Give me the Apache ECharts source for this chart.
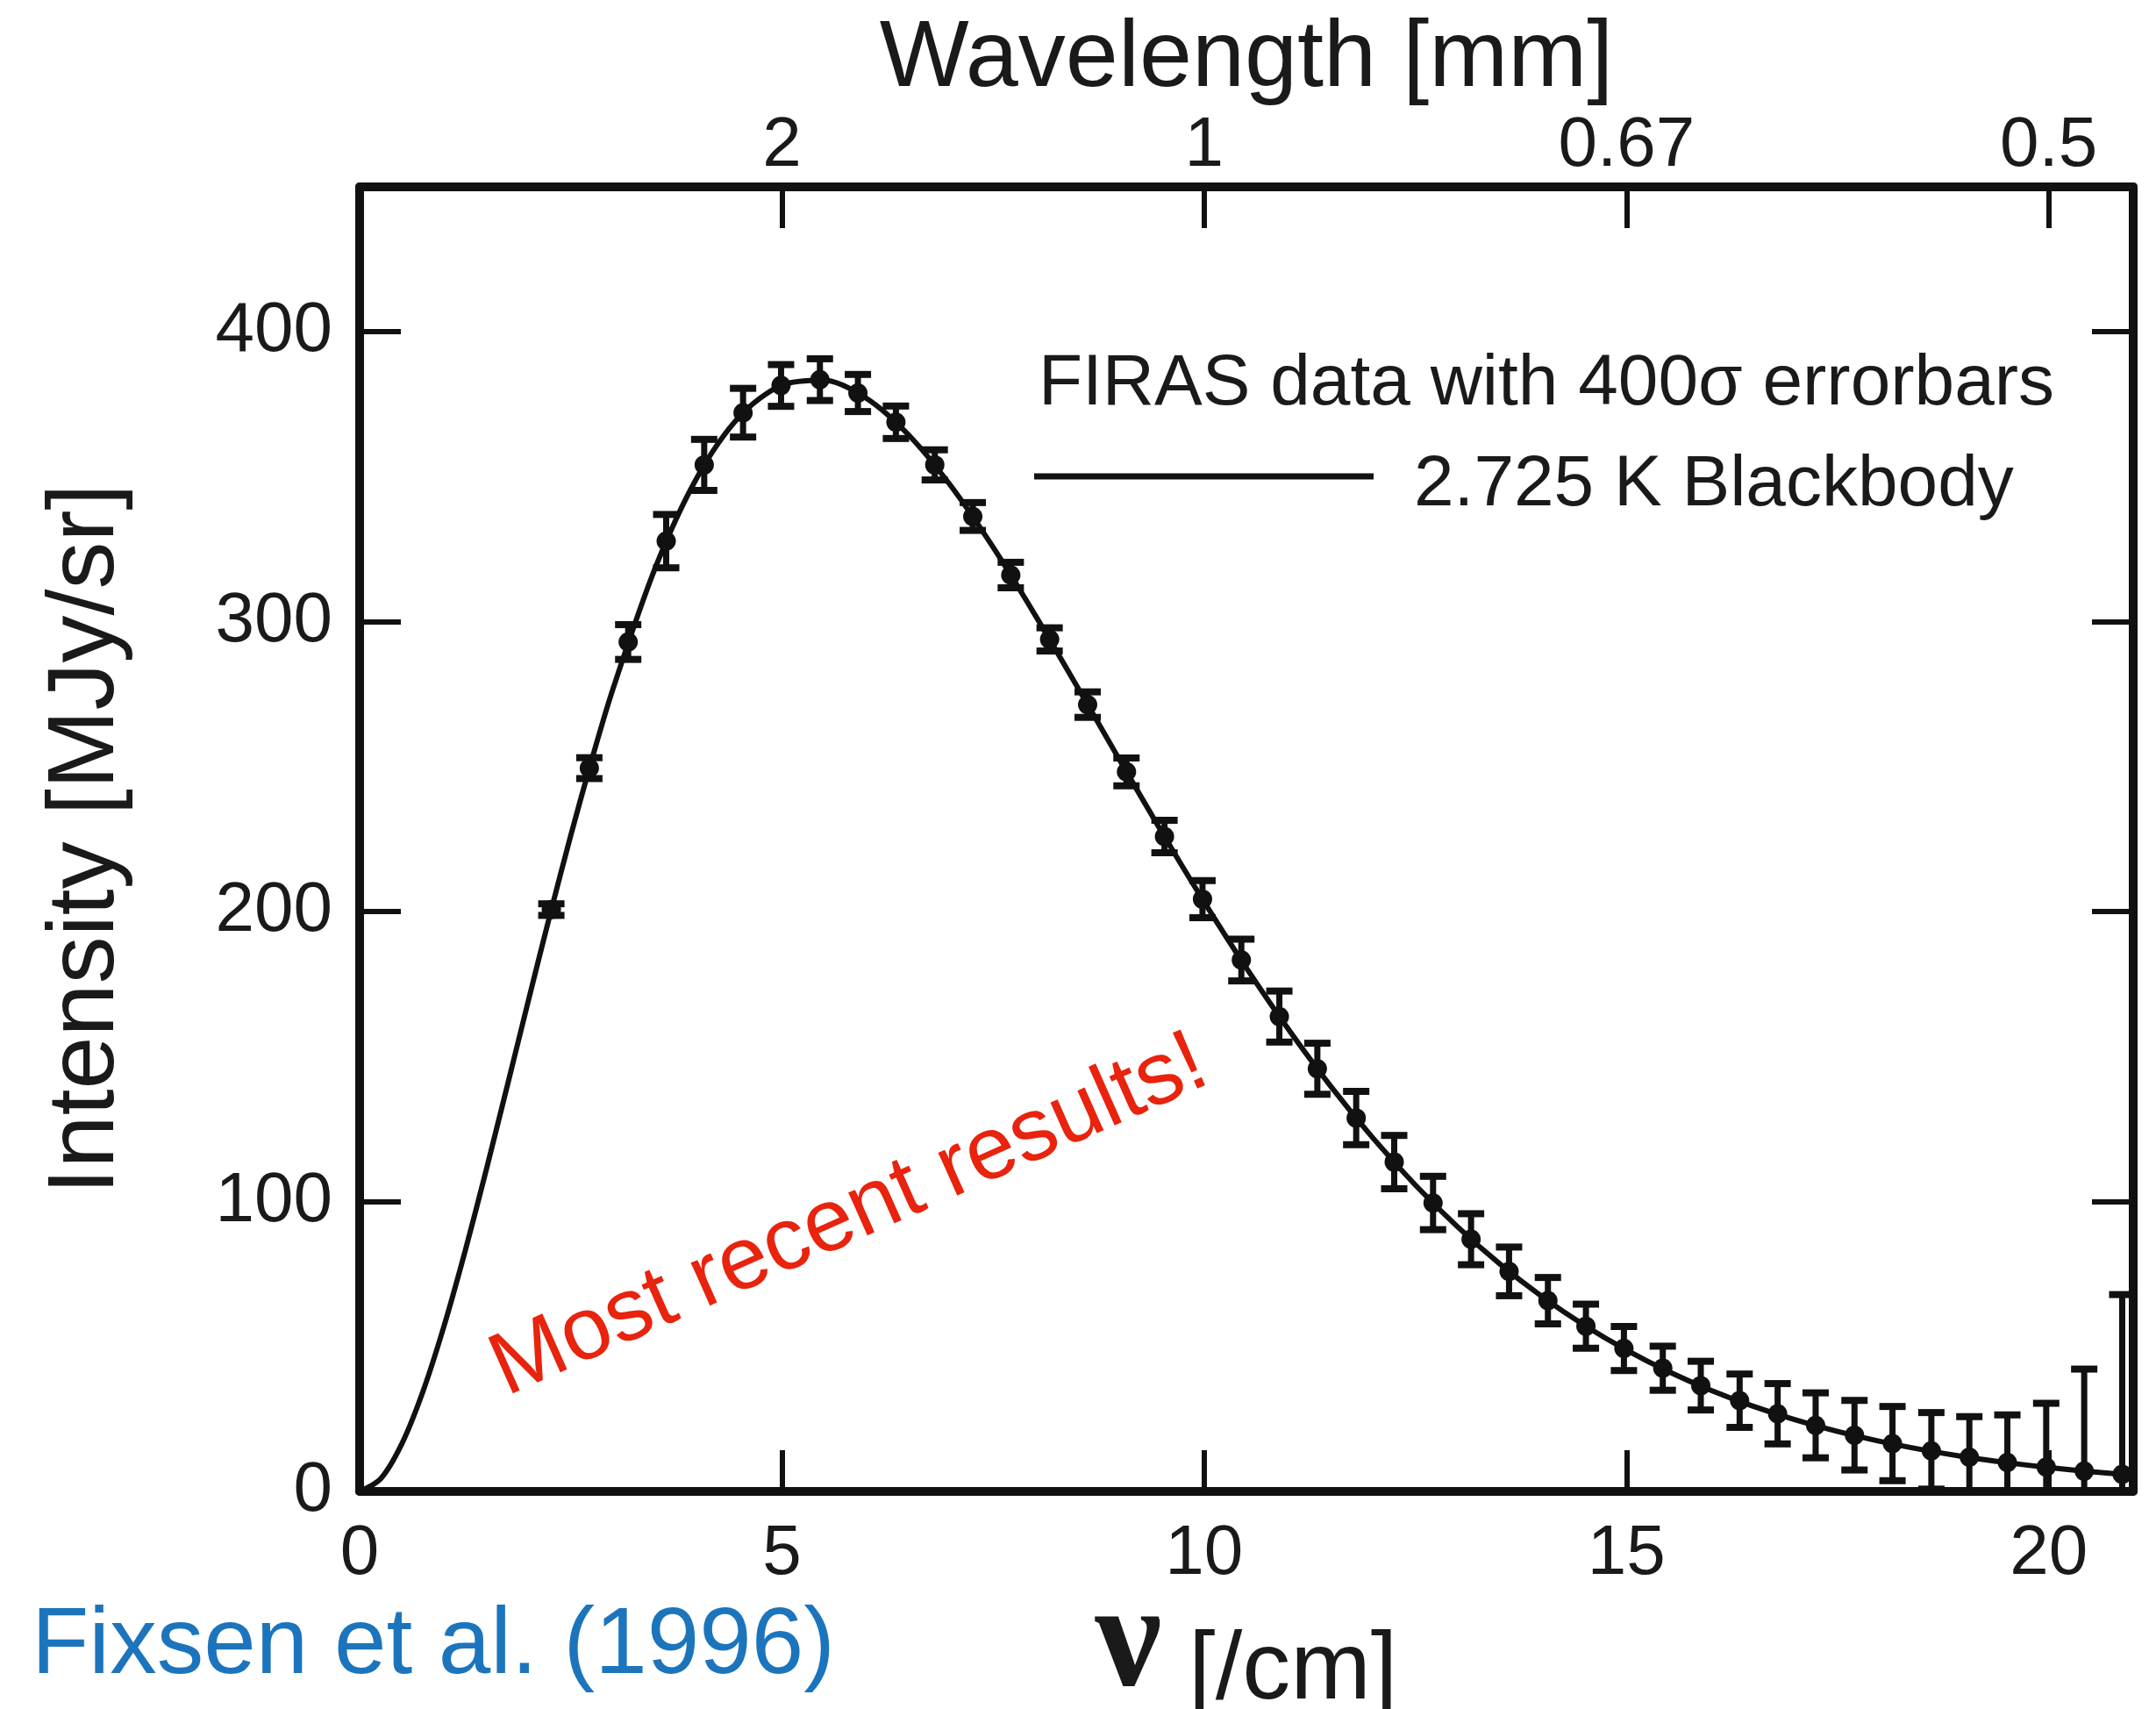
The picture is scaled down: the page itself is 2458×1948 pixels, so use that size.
<!DOCTYPE html>
<html>
<head>
<meta charset="utf-8">
<script src="https://cdn.jsdelivr.net/npm/echarts@6/dist/echarts.min.js"></script>
<style>
  html, body { margin: 0; padding: 0; background: #ffffff; overflow: hidden; }
  #chart { width: 2458px; height: 1948px; }
</style>
</head>
<body>
<div id="chart"></div>
<script>
// ---- Data ----
// FIRAS measured points: frequency [/cm], intensity [MJy/sr], 400-sigma error [MJy/sr]
const firasNu = [2.27, 2.72, 3.18, 3.63, 4.08, 4.54, 4.99, 5.45, 5.90, 6.35, 6.81, 7.26, 7.71, 8.17,
  8.62, 9.08, 9.53, 9.98, 10.44, 10.89, 11.34, 11.80, 12.25, 12.71, 13.16, 13.61, 14.07, 14.52,
  14.97, 15.43, 15.88, 16.34, 16.79, 17.24, 17.70, 18.15, 18.61, 19.06, 19.51, 19.97, 20.42, 20.87];
const firasIntensity = [200.7, 249.5, 293.0, 327.8, 354.1, 372.1, 381.5, 383.5, 378.9, 368.8, 354.1,
  336.3, 316.1, 293.9, 271.4, 248.2, 225.9, 204.3, 183.3, 163.8, 145.8, 128.8, 113.6, 99.5, 87.0,
  75.9, 65.8, 57.0, 49.3, 42.5, 36.5, 31.3, 26.8, 22.8, 19.4, 16.5, 14.0, 11.8, 10.0, 8.4, 7.0, 5.9];
const firasError400 = [2.0, 3.6, 6.0, 9.2, 8.8, 8.4, 7.2, 7.2, 6.4, 5.6, 5.2, 4.8, 4.4, 4.0, 4.4,
  4.8, 5.6, 6.4, 7.2, 8.8, 8.8, 9.2, 9.2, 9.2, 8.8, 8.4, 8.0, 7.6, 7.6, 7.6, 8.4, 9.2, 10.4, 11.2,
  12.0, 12.8, 13.2, 14.0, 16.4, 22.0, 35.2, 62.0];

// 2.725 K blackbody curve
const curveNu = [0, 0.25, 0.5, 0.75, 1, 1.25, 1.5, 1.75, 2, 2.25, 2.5, 2.75, 3, 3.5, 4, 4.5, 5, 5.5,
  6, 6.5, 7, 7.5, 8, 8.5, 9, 9.5, 10, 10.5, 11, 11.5, 12, 12.5, 13, 13.5, 14, 14.5, 15, 15.5, 16,
  16.5, 17, 17.5, 18, 18.5, 19, 19.5, 20, 20.5, 21];
const curveIntensity = [0, 4.40, 16.44, 34.50, 57.12, 83.01, 111.00, 140.14, 169.51, 198.43, 226.27,
  252.54, 276.86, 318.53, 349.96, 370.84, 381.61, 383.25, 377.06, 364.43, 346.86, 325.71, 302.22,
  277.44, 252.24, 227.37, 203.35, 180.57, 159.32, 139.70, 121.83, 105.70, 91.28, 78.49, 67.21, 57.34,
  48.74, 41.29, 34.88, 29.38, 24.67, 20.67, 17.27, 14.40, 11.98, 9.95, 8.24, 6.82, 5.63];

// Axis ticks
const xTickStep = 5;
const yTickStep = 100;
const topTickValues = [5, 10, 15, 20];
const topTickLabels = ['2', '1', '0.67', '0.5'];

// Texts
const legendDataText = 'FIRAS data with 400σ errorbars';
const legendCurveText = '2.725 K Blackbody';
const annotationText = 'Most recent results!';
const citationText = 'Fixsen et al. (1996)';

// ---- Chart ----
const FONT = "'Liberation Sans', Arial, Helvetica, sans-serif";
const INK = '#111111';
const TXT = '#1a1a1a';

const chart = echarts.init(document.getElementById('chart'), null, { renderer: 'canvas' });

const axisLineStyle = { show: true, onZero: false, lineStyle: { color: INK, width: 10 } };
const axisTickStyle = { show: true, inside: true, length: 47, lineStyle: { color: INK, width: 6 } };

const errorData = firasNu.map((x, i) => [x, firasIntensity[i], firasError400[i]]);
const curveData = curveNu.map((x, i) => [x, curveIntensity[i]]);

function renderErrorBar(params, api) {
  const x = api.value(0), y = api.value(1), e = api.value(2);
  const cs = params.coordSys;
  const c = api.coord([x, y]);
  let pTop = api.coord([x, y + e])[1];
  let pBot = api.coord([x, y - e])[1];
  const yMin = cs.y, yMax = cs.y + cs.height;
  const topClipped = pTop < yMin, botClipped = pBot > yMax;
  pTop = Math.max(pTop, yMin);
  pBot = Math.min(pBot, yMax);
  const half = 15;
  const st = { stroke: INK, lineWidth: 7 };
  const capSt = { stroke: INK, lineWidth: 8 };
  const children = [
    { type: 'line', shape: { x1: c[0], y1: pTop, x2: c[0], y2: pBot }, style: st }
  ];
  if (!topClipped) children.push({ type: 'line', shape: { x1: c[0] - half, y1: pTop, x2: c[0] + half, y2: pTop }, style: capSt });
  if (!botClipped) children.push({ type: 'line', shape: { x1: c[0] - half, y1: pBot, x2: c[0] + half, y2: pBot }, style: capSt });
  children.push({ type: 'circle', shape: { cx: c[0], cy: c[1], r: 11 }, style: { fill: INK } });
  return { type: 'group', children: children };
}

const option = {
  backgroundColor: '#ffffff',
  animation: false,
  grid: { left: 410, right: 26, top: 213, bottom: 248, containLabel: false, outerBoundsMode: 'none' },
  xAxis: [
    {
      type: 'value', position: 'bottom', min: 0, max: 21, interval: xTickStep,
      axisLine: axisLineStyle, axisTick: axisTickStyle, splitLine: { show: false },
      axisLabel: { show: true, fontSize: 80, fontFamily: FONT, color: TXT, margin: 32, showMaxLabel: false },
      name: '{nu|ν} {unit|[/cm]}', nameLocation: 'middle', nameGap: 91, nameMoveOverlap: false,
      nameTextStyle: {
        fontSize: 110, fontFamily: FONT, color: TXT,
        rich: {
          nu: { fontSize: 170, fontFamily: "'Liberation Serif', 'DejaVu Serif', serif", fontWeight: 'bold', color: TXT, verticalAlign: 'bottom' },
          unit: { fontSize: 110, fontFamily: FONT, color: TXT, verticalAlign: 'bottom' }
        }
      }
    },
    {
      type: 'value', position: 'top', min: 0, max: 21, interval: xTickStep,
      axisLine: axisLineStyle, axisTick: axisTickStyle, splitLine: { show: false },
      axisLabel: {
        show: true, fontSize: 80, fontFamily: FONT, color: TXT, margin: 6,
        showMinLabel: false, showMaxLabel: false,
        formatter: function (v) {
          const k = topTickValues.indexOf(v);
          return k >= 0 ? topTickLabels[k] : '';
        }
      },
      name: 'Wavelength [mm]', nameLocation: 'middle', nameGap: 91, nameMoveOverlap: false,
      nameTextStyle: { fontSize: 108, fontFamily: FONT, color: TXT }
    }
  ],
  yAxis: [
    {
      type: 'value', position: 'left', min: 0, max: 450, interval: yTickStep,
      axisLine: axisLineStyle, axisTick: axisTickStyle, splitLine: { show: false },
      axisLabel: { show: true, fontSize: 80, fontFamily: FONT, color: TXT, margin: 31, showMaxLabel: false },
      name: 'Intensity [MJy/sr]', nameLocation: 'middle', nameGap: 257, nameMoveOverlap: false,
      nameTextStyle: { fontSize: 108, fontFamily: FONT, color: TXT }
    },
    {
      type: 'value', position: 'right', min: 0, max: 450, interval: yTickStep,
      axisLine: axisLineStyle, axisTick: axisTickStyle, splitLine: { show: false },
      axisLabel: { show: false }
    }
  ],
  series: [
    {
      name: legendCurveText, type: 'line', xAxisIndex: 0, yAxisIndex: 0,
      data: curveData, showSymbol: false, smooth: 0.3,
      lineStyle: { color: INK, width: 6 }, z: 2, silent: true
    },
    {
      name: legendDataText, type: 'custom', xAxisIndex: 0, yAxisIndex: 0,
      data: errorData, renderItem: renderErrorBar,
      encode: { x: 0, y: 1 }, z: 3, silent: true
    }
  ],
  graphic: [
    {
      type: 'text', x: 1184, y: 438, z: 10,
      style: { text: legendDataText, font: "82px " + FONT, fill: TXT, textAlign: 'left', textVerticalAlign: 'middle' }
    },
    {
      type: 'line', z: 10,
      shape: { x1: 1179, y1: 543, x2: 1566, y2: 543 },
      style: { stroke: INK, lineWidth: 7 }
    },
    {
      type: 'text', x: 1612, y: 553, z: 10,
      style: { text: legendCurveText, font: "82px " + FONT, fill: TXT, textAlign: 'left', textVerticalAlign: 'middle' }
    },
    {
      type: 'text', x: 566, y: 1566, rotation: 24 * Math.PI / 180, z: 10,
      style: { text: annotationText, font: "101px " + FONT, fill: '#e8230e', textAlign: 'left', textVerticalAlign: 'middle' }
    },
    {
      type: 'text', x: 36, y: 1877, z: 10,
      style: { text: citationText, font: "107px " + FONT, fill: '#1c75bc', textAlign: 'left', textVerticalAlign: 'middle' }
    }
  ]
};

chart.setOption(option);
</script>
</body>
</html>
